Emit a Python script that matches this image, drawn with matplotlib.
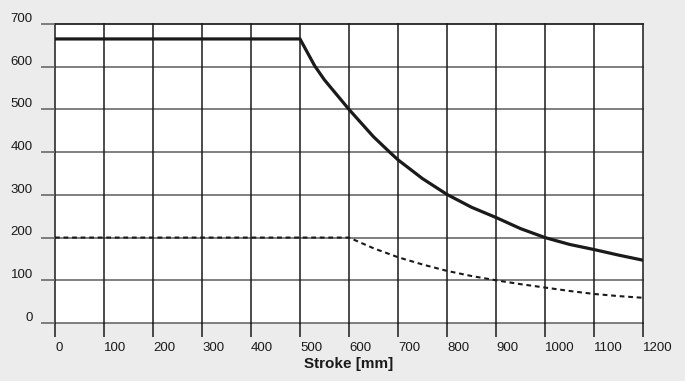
import matplotlib
matplotlib.use("Agg")
import matplotlib.pyplot as plt
from matplotlib.transforms import ScaledTranslation

# Force curves versus stroke
stroke_solid = [0, 500, 530, 550, 600, 650, 683, 700, 750, 800, 850, 900,
                950, 1000, 1050, 1100, 1150, 1200]
force_solid = [665, 665, 602, 569, 500, 436, 400, 382, 338, 301, 271, 247,
               221, 200, 184, 172, 159, 147]

stroke_dashed = [0, 600, 650, 700, 750, 800, 850, 900, 950, 1000, 1050, 1100, 1150, 1200]
force_dashed = [200, 200, 175, 154, 137, 122, 110, 100, 91, 83, 75, 68, 63, 59]

x_ticks = list(range(0, 1201, 100))
y_ticks = list(range(0, 701, 100))
x_label = "Stroke [mm]"

plt.rcParams["font.family"] = ["Liberation Sans", "DejaVu Sans"]

fig = plt.figure(figsize=(6.85, 3.81), dpi=100, facecolor="#ececec")
ax = fig.add_axes([55 / 685, 1 - 323 / 381, 588 / 685, 299 / 381])
ax.set_facecolor("white")
ax.set_xlim(0, 1200)
ax.set_ylim(0, 700)
for s in ax.spines.values():
    s.set_visible(False)

# grid
for y in y_ticks:
    ax.axhline(y, color="#111111" if y == 700 else "#6a6a6a", lw=1.2, clip_on=False, zorder=1)
for x in x_ticks:
    ax.axvline(x, color="#1a1a1a", lw=1.1, clip_on=False, zorder=1)

ax.plot(stroke_solid, force_solid, color="#1a1a1a", lw=2.3,
        solid_joinstyle="round", zorder=3)
ax.plot(stroke_dashed, force_dashed, color="#1a1a1a", lw=1.5,
        linestyle=(0, (2.3, 1.8)), zorder=3)

ax.set_xticks(x_ticks)
ax.set_yticks(y_ticks)
ax.tick_params(axis="x", length=10, width=1.1, color="#1a1a1a", pad=4,
               labelsize=9.5, labelcolor="#1a1a1a")
ax.tick_params(axis="y", length=10, width=1.2, color="#6a6a6a", pad=6,
               labelsize=9.5, labelcolor="#1a1a1a")

up = ScaledTranslation(0, 1.5 / 72, fig.dpi_scale_trans)
for lbl in ax.get_yticklabels():
    lbl.set_verticalalignment("baseline")
    lbl.set_transform(lbl.get_transform() + up)
for lbl in ax.get_xticklabels():
    lbl.set_horizontalalignment("left")

fig.text(349 / 685, 1 - 364 / 381, x_label, ha="center", va="center",
         fontsize=11, fontweight="bold", color="#1a1a1a")

fig.savefig("out.png", dpi=100, facecolor=fig.get_facecolor())
